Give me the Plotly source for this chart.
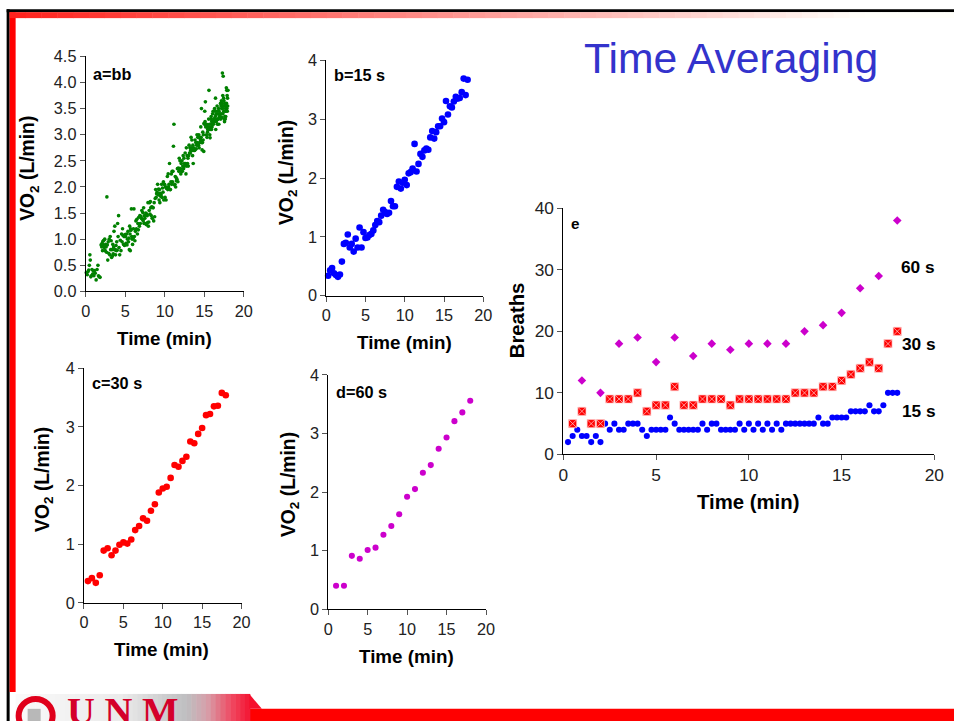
import plotly.graph_objects as go

W, H = 954, 721
# The photograph of the page shows the window framed and slightly scaled;
# positions below are given in reference-picture pixels and converted back to figure pixels.
SXF, SYF, PAD, XSHIFT = 970 / 954, 737 / 721, 8, 2.5
SF = 970 / 954  # font / marker size compensation

# ---------------- DATA ----------------
# a = breath-by-breath VO2 (L/min) vs time (min)
bb_time = [
    0.08, 0.20, 0.30, 0.38, 0.46, 0.53, 0.58, 0.65, 0.71, 0.80, 0.88, 0.96,
    1.04, 1.12, 1.20, 1.32, 1.44, 1.55, 1.62, 1.70, 1.82, 1.95,
    2.03, 2.08, 2.13, 2.18, 2.23, 2.29, 2.35, 2.41, 2.47, 2.53, 2.58, 2.63, 2.68, 2.73, 2.79, 2.85, 2.91, 2.97,
    3.04, 3.10, 3.16, 3.22, 3.28, 3.33, 3.38, 3.43, 3.48, 3.53, 3.58, 3.63, 3.68, 3.73, 3.78, 3.83, 3.88, 3.93, 3.98,
    4.04, 4.10, 4.16, 4.22, 4.30, 4.38, 4.46, 4.54, 4.60, 4.66, 4.72, 4.79, 4.85, 4.91, 4.97,
    5.04, 5.10, 5.16, 5.22, 5.29, 5.35, 5.41, 5.47, 5.52, 5.56, 5.60, 5.64, 5.68, 5.72, 5.78, 5.83, 5.88, 5.93, 5.98,
    6.04, 6.10, 6.16, 6.22, 6.29, 6.35, 6.41, 6.47, 6.54, 6.60, 6.66, 6.72, 6.79, 6.85, 6.91, 6.97,
    7.04, 7.10, 7.16, 7.22, 7.28, 7.33, 7.38, 7.43, 7.48, 7.54, 7.60, 7.66, 7.72, 7.78, 7.83, 7.88, 7.93, 7.98,
    8.03, 8.08, 8.13, 8.18, 8.23, 8.29, 8.35, 8.41, 8.47, 8.54, 8.60, 8.66, 8.72, 8.79, 8.85, 8.91, 8.97,
    9.04, 9.10, 9.16, 9.22, 9.28, 9.33, 9.38, 9.43, 9.48, 9.54, 9.60, 9.66, 9.72, 9.78, 9.83, 9.88, 9.93, 9.98,
    10.04, 10.10, 10.16, 10.22, 10.28, 10.33, 10.38, 10.43, 10.48, 10.54, 10.60, 10.66, 10.72, 10.78, 10.83, 10.88, 10.93, 10.98,
    11.04, 11.10, 11.16, 11.22, 11.28, 11.33, 11.38, 11.43, 11.48, 11.54, 11.60, 11.66, 11.72, 11.78, 11.83, 11.88, 11.93, 11.98,
    12.03, 12.08, 12.13, 12.18, 12.23, 12.28, 12.33, 12.38, 12.43, 12.48, 12.53, 12.58, 12.63, 12.68, 12.73, 12.78, 12.83, 12.88, 12.93, 12.98,
    13.03, 13.08, 13.13, 13.18, 13.23, 13.28, 13.33, 13.38, 13.43, 13.48, 13.52, 13.56, 13.60, 13.64, 13.68, 13.72, 13.78, 13.83, 13.88, 13.93, 13.98,
    14.03, 14.08, 14.13, 14.18, 14.23, 14.27, 14.31, 14.35, 14.39, 14.43, 14.47, 14.52, 14.56, 14.60, 14.64, 14.68, 14.72,
    14.77, 14.81, 14.85, 14.89, 14.93, 14.97,
    15.02, 15.06, 15.10, 15.14, 15.18, 15.22, 15.27, 15.30, 15.34, 15.37, 15.41, 15.44, 15.48,
    15.52, 15.55, 15.59, 15.62, 15.66, 15.69, 15.73, 15.77, 15.80, 15.84, 15.87, 15.91, 15.94, 15.98,
    16.02, 16.05, 16.09, 16.12, 16.16, 16.19, 16.23, 16.27, 16.30, 16.33, 16.36, 16.39, 16.42, 16.45, 16.48,
    16.52, 16.55, 16.59, 16.62, 16.66, 16.69, 16.73, 16.77, 16.80, 16.84, 16.87, 16.91, 16.94, 16.98,
    17.02, 17.05, 17.08, 17.11, 17.14, 17.17, 17.20, 17.23, 17.26, 17.29, 17.31, 17.34, 17.36, 17.39, 17.41, 17.44, 17.46, 17.49,
    17.51, 17.54, 17.56, 17.59, 17.61, 17.64, 17.66, 17.69, 17.71, 17.74, 17.76, 17.79, 17.81, 17.84, 17.86, 17.89, 17.91, 17.94, 17.96, 17.99,
]
bb_vo2 = [
    0.36, 0.32, 0.38, 0.41, 0.50, 0.70, 0.60, 0.28, 0.30, 0.42, 0.33, 0.39,
    0.30, 0.40, 0.35, 0.22, 0.42, 0.50, 0.30, 0.28, 0.27, 0.89,
    0.85, 0.92, 0.78, 0.96, 0.89, 0.98, 0.84, 1.00, 0.78, 0.90, 0.85, 0.75, 1.81, 0.89, 0.60, 0.95, 0.73, 1.00,
    0.70, 1.05, 0.80, 0.97, 0.65, 0.80, 0.68, 0.90, 0.72, 0.85, 1.15, 0.80, 1.25, 0.80, 0.70, 0.88, 0.78, 0.95, 0.79,
    1.30, 1.05, 1.45, 0.84, 0.70, 0.98, 0.78, 1.10, 0.95, 1.20, 1.07, 0.90, 1.05, 0.88, 1.09,
    1.05, 0.92, 1.10, 0.89, 1.00, 1.15, 0.95, 1.02, 0.80, 1.25, 1.10, 0.78, 1.20, 1.17, 1.58, 1.05, 1.00, 0.90, 1.02,
    1.20, 1.58, 1.05, 0.97, 1.15, 1.35, 1.20, 1.38, 1.10, 1.30, 1.18, 1.42, 1.25, 1.45, 1.30, 1.44,
    1.40, 1.55, 1.38, 1.51, 1.35, 1.60, 1.30, 1.45, 1.40, 1.30, 1.50, 1.28, 1.48, 1.45, 1.32, 1.70, 1.25, 1.33,
    1.55, 1.70, 1.48, 1.72, 1.60, 1.45, 1.62, 1.40, 1.61, 1.60, 1.35, 1.70, 1.43, 1.78, 1.95, 1.80, 1.87,
    1.90, 2.05, 1.85, 1.96, 1.75, 1.95, 1.70, 1.88, 1.82, 1.85, 2.05, 1.80, 1.98, 1.90, 2.10, 1.75, 2.05, 2.05,
    1.80, 2.00, 1.75, 1.97, 2.00, 2.20, 1.95, 2.25, 2.00, 2.05, 2.45, 1.95, 1.95, 2.10, 2.25, 2.05, 2.30, 2.10,
    2.30, 2.78, 3.20, 2.04, 2.05, 2.20, 2.00, 2.18, 2.12, 2.15, 2.35, 2.10, 2.36, 2.30, 2.55, 2.35, 2.50, 2.35,
    2.25, 2.45, 2.30, 2.50, 2.30, 2.40, 2.60, 2.35, 2.55, 2.45, 2.40, 2.65, 2.45, 2.25, 2.75, 2.40, 2.60, 2.45, 2.55, 2.40,
    2.60, 2.80, 2.65, 2.75, 2.65, 2.70, 2.95, 2.75, 2.90, 2.70, 2.60, 2.80, 2.45, 2.75, 2.70, 2.72, 2.70, 2.90, 2.72, 2.85, 2.73,
    2.80, 3.00, 2.85, 2.95, 2.80, 2.80, 3.00, 2.75, 2.95, 2.85, 2.93, 2.90, 3.15, 2.95, 3.50, 2.85, 2.71,
    2.85, 3.05, 2.90, 3.00, 2.68, 3.22,
    3.20, 3.45, 3.25, 3.63, 3.15, 3.18, 3.00, 3.20, 2.95, 3.15, 3.05, 3.10, 3.11,
    3.15, 3.30, 3.85, 3.10, 3.20, 3.00, 2.94, 3.10, 3.30, 3.15, 3.35, 3.10, 3.25, 3.15,
    3.20, 3.40, 3.25, 3.45, 3.20, 3.30, 3.30, 3.30, 3.50, 3.25, 3.45, 3.35, 3.70, 3.10, 3.39,
    3.25, 3.45, 3.30, 3.55, 3.20, 3.40, 3.30, 3.30, 3.50, 3.20, 3.45, 3.35, 3.40, 3.32,
    3.35, 3.60, 3.30, 3.55, 3.40, 3.65, 3.50, 3.33, 3.60, 4.18, 3.50, 3.75, 3.40, 4.12, 3.55, 3.70, 3.45, 3.65,
    3.30, 3.55, 3.25, 3.60, 3.35, 3.45, 3.30, 3.50, 3.35, 3.45, 3.55, 3.90, 3.60, 3.85, 3.50, 3.75, 3.45, 3.70, 3.55, 3.85,
]

# 15-s, 30-s and 60-s interval end times (min)
t15 = [0.25, 0.5, 0.75, 1.0, 1.25, 1.5, 1.75, 2.0, 2.25, 2.5, 2.75, 3.0,
       3.25, 3.5, 3.75, 4.0, 4.25, 4.5, 4.75, 5.0, 5.25, 5.5, 5.75, 6.0,
       6.25, 6.5, 6.75, 7.0, 7.25, 7.5, 7.75, 8.0, 8.25, 8.5, 8.75, 9.0,
       9.25, 9.5, 9.75, 10.0, 10.25, 10.5, 10.75, 11.0, 11.25, 11.5, 11.75, 12.0,
       12.25, 12.5, 12.75, 13.0, 13.25, 13.5, 13.75, 14.0, 14.25, 14.5, 14.75, 15.0,
       15.25, 15.5, 15.75, 16.0, 16.25, 16.5, 16.75, 17.0, 17.25, 17.5, 17.75, 18.0]
t30 = [0.5, 1.0, 1.5, 2.0, 2.5, 3.0, 3.5, 4.0, 4.5, 5.0, 5.5, 6.0,
       6.5, 7.0, 7.5, 8.0, 8.5, 9.0, 9.5, 10.0, 10.5, 11.0, 11.5, 12.0,
       12.5, 13.0, 13.5, 14.0, 14.5, 15.0, 15.5, 16.0, 16.5, 17.0, 17.5, 18.0]
t60 = [1, 2, 3, 4, 5, 6, 7, 8, 9, 10, 11, 12, 13, 14, 15, 16, 17, 18]

# b = 15 s averages
vo2_15 = [0.34, 0.43, 0.47, 0.38, 0.35, 0.32, 0.36, 0.58, 0.88, 0.90, 1.04, 0.82,
          0.88, 0.75, 0.97, 0.82, 1.16, 0.82, 1.08, 0.98, 0.99, 1.03, 1.05, 1.11,
          1.20, 1.27, 1.25, 1.36, 1.46, 1.42, 1.39, 1.41, 1.61, 1.52, 1.52, 1.85,
          1.94, 1.82, 1.92, 1.97, 1.88, 2.08, 2.10, 2.16, 2.58, 2.11, 2.24, 2.41,
          2.36, 2.47, 2.50, 2.48, 2.69, 2.80, 2.67, 2.78, 2.88, 2.88, 3.01, 2.95,
          3.31, 3.08, 3.22, 3.20, 3.30, 3.38, 3.35, 3.36, 3.46, 3.69, 3.41, 3.67]
# c = 30 s averages
vo2_30 = [0.37, 0.42, 0.34, 0.47, 0.89, 0.93, 0.81, 0.89, 0.99, 1.03, 1.01, 1.08,
          1.24, 1.31, 1.44, 1.40, 1.57, 1.68, 1.88, 1.95, 1.98, 2.13, 2.35, 2.32,
          2.42, 2.49, 2.75, 2.72, 2.88, 2.98, 3.20, 3.22, 3.35, 3.36, 3.58, 3.54]
# d = 60 s averages
vo2_60 = [0.40, 0.40, 0.91, 0.86, 1.01, 1.05, 1.27, 1.42, 1.62, 1.92, 2.05, 2.33,
          2.46, 2.74, 2.93, 3.21, 3.36, 3.56]

# e = breaths per averaging interval
br_15 = [2, 3, 4, 3, 3, 2, 3, 2, 5, 4, 5, 4, 4, 5, 5, 5, 4, 3, 4, 4, 4, 4, 6, 5,
         4, 4, 4, 4, 4, 5, 4, 5, 5, 4, 4, 4, 4, 5, 4, 5, 4, 5, 4, 5, 4, 5, 4, 5,
         5, 5, 5, 5, 5, 5, 6, 5, 5, 6, 6, 6, 6, 7, 7, 7, 7, 8, 7, 7, 8, 10, 10, 10]
br_30 = [5, 7, 5, 5, 9, 9, 9, 10, 7, 8, 8, 11, 8, 8, 9, 9, 9, 8, 9, 9, 9, 9, 9, 9,
         10, 10, 10, 11, 11, 12, 13, 14, 15, 14, 18, 20]
br_60 = [12, 10, 18, 19, 15, 19, 16, 18, 17, 18, 18, 18, 20, 21, 23, 27, 29, 38]

panel_labels = ["a=bb", "b=15 s", "c=30 s", "d=60 s", "e"]
series_labels = ["60 s", "30 s", "15 s"]

# ---------------- FIGURE ----------------
def PX(x):
    """reference-picture pixel x -> paper fraction"""
    return ((x + XSHIFT) * SXF - PAD) / W


def PY(y):
    """reference-picture pixel y -> paper fraction"""
    return 1 - (y * SYF - PAD) / H


def fs(v):
    return round(v * SF, 2)


FONT = "Liberation Sans, Arial, sans-serif"
GREEN, BLUE, RED, MAG = "#008000", "#0000FF", "#FF0000", "#CC00CC"

fig = go.Figure()
fig.add_trace(go.Scatter(x=bb_time, y=bb_vo2, mode="markers", xaxis="x", yaxis="y",
                         marker=dict(color=GREEN, size=fs(3.6)), cliponaxis=False))
fig.add_trace(go.Scatter(x=t15, y=vo2_15, mode="markers", xaxis="x2", yaxis="y2",
                         marker=dict(color=BLUE, size=fs(6.5)), cliponaxis=False))
fig.add_trace(go.Scatter(x=t30, y=vo2_30, mode="markers", xaxis="x3", yaxis="y3",
                         marker=dict(color=RED, size=fs(6.5)), cliponaxis=False))
fig.add_trace(go.Scatter(x=t60, y=vo2_60, mode="markers", xaxis="x4", yaxis="y4",
                         marker=dict(color=MAG, size=fs(6)), cliponaxis=False))
fig.add_trace(go.Scatter(x=t15, y=br_15, mode="markers", xaxis="x5", yaxis="y5",
                         marker=dict(color=BLUE, size=fs(6)), cliponaxis=False))
fig.add_trace(go.Scatter(x=t30, y=br_30, mode="markers", xaxis="x5", yaxis="y5",
                         marker=dict(color=RED, size=fs(8), symbol="square-x",
                                     line=dict(color="#FFD0D0", width=0.7)), cliponaxis=False))
fig.add_trace(go.Scatter(x=t60, y=br_60, mode="markers", xaxis="x5", yaxis="y5",
                         marker=dict(color=MAG, size=fs(6.5), symbol="diamond"), cliponaxis=False))


def axis(domain, rng, dtick, anchor, fsize=16, fmt=None):
    d = dict(domain=domain, range=rng, dtick=dtick, tick0=0, anchor=anchor,
             showline=True, linecolor="black", linewidth=1, ticks="outside",
             ticklen=5, tickwidth=1, tickcolor="#555", showgrid=False, zeroline=False,
             tickfont=dict(family=FONT, size=fs(fsize), color="#222"), fixedrange=True)
    if fmt:
        d["tickformat"] = fmt
    return d


# panel pixel boxes in the reference: (x0, x1, ybottom, ytop)
boxes = {
    "1": (86, 244, 291, 54.5),
    "2": (326.3, 483.3, 295.3, 58.5),
    "3": (84.3, 241.7, 604.3, 368.3),
    "4": (328.3, 486, 610.7, 375),
    "5": (563.3, 934, 455, 207.3),
}
yr = {"1": ([0, 4.5], 0.5, ".1f"), "2": ([0, 4], 1, None), "3": ([0, 4], 1, None),
      "4": ([0, 4], 1, None), "5": ([0, 40], 10, None)}

lay = {}
for k, (x0, x1, yb, yt) in boxes.items():
    sx = "" if k == "1" else k
    f = 17 if k == "5" else 16
    lay["xaxis" + sx] = axis([PX(x0), PX(x1)], [0, 20], 5, "y" + sx, f)
    r, dt, fmt = yr[k]
    lay["yaxis" + sx] = axis([PY(yb), PY(yt)], r, dt, "x" + sx, f, fmt)
fig.update_layout(**lay)

ann = []


def text(t, x, y, size, color="black", angle=0, xanchor="center", yanchor="middle",
         family=FONT):
    ann.append(dict(text=t, x=PX(x), y=PY(y), xref="paper", yref="paper",
                    showarrow=False, textangle=angle, xanchor=xanchor, yanchor=yanchor,
                    font=dict(family=family, size=fs(size), color=color)))


VO2 = "<b>VO<sub>2</sub> (L/min)</b>"
TM = "<b>Time (min)</b>"
# axis titles
text(TM, 165, 338, 18.5)
text(VO2, 30, 167, 19, angle=-90)
text(TM, 405, 342, 18.5)
text(VO2, 288, 171, 19, angle=-90)
text(TM, 162, 651, 18.5)
text(VO2, 45, 480, 19, angle=-90)
text(TM, 407, 658, 18.5)
text(VO2, 290, 485, 19, angle=-90)
text(TM, 748, 503, 20)
text("<b>Breaths</b>", 517, 320, 20, angle=-90)
# panel labels
text("<b>" + panel_labels[0] + "</b>", 91, 72, 16, xanchor="left")
text("<b>" + panel_labels[1] + "</b>", 332, 73, 16, xanchor="left")
text("<b>" + panel_labels[2] + "</b>", 90, 383, 16, xanchor="left")
text("<b>" + panel_labels[3] + "</b>", 334, 392, 16, xanchor="left")
text("<b>" + panel_labels[4] + "</b>", 569, 223, 15, xanchor="left")
# series labels in panel e
text("<b>" + series_labels[0] + "</b>", 918, 266, 17)
text("<b>" + series_labels[1] + "</b>", 919, 344, 17)
text("<b>" + series_labels[2] + "</b>", 919, 411, 17)
# slide title
text("Time Averaging", 731, 56, 42, color="#3333CC")
# UNM logo text (top part only visible, as in the slide)
text("<b>U N M</b>", 123, 713, 38, color="#D4002A",
     family="Liberation Serif, Times New Roman, serif")

shapes = []


def rect(x0, y0, x1, y1, color, layer="below"):
    shapes.append(dict(type="rect", xref="paper", yref="paper", x0=PX(x0), x1=PX(x1),
                       y0=PY(y1), y1=PY(y0), fillcolor=color, line=dict(width=0),
                       layer=layer))


# slide frame
rect(7, 7, 960, 10, "black")
rect(7, 7, 10, 730, "black")
rect(10, 10, 16, 694, "#FF0000")
# top gradient bar
n = 60
for i in range(n):
    xa = 10 + (960 - 10) * i / n
    xb = 10 + (960 - 10) * (i + 1) / n + 0.5
    fr = min(1.0, (xa - 10) / 840)
    g = int(35 + (255 - 35) * fr)
    rect(xa, 10, xb, 16, "rgb(255,%d,%d)" % (g, max(20, g - 5)))
# bottom red bar
rect(247, 711, 960, 730, "#FF0000")
# logo gradient strip
stops = [(16, (250, 250, 250)), (120, (235, 235, 235)), (185, (190, 190, 192)),
         (205, (215, 160, 170)), (230, (240, 70, 95)), (250, (245, 15, 45))]
m = 48
for i in range(m):
    xa = 16 + (250 - 16) * i / m
    xb = 16 + (250 - 16) * (i + 1) / m + 0.5
    for j in range(len(stops) - 1):
        if stops[j][0] <= xa <= stops[j + 1][0]:
            fr = (xa - stops[j][0]) / (stops[j + 1][0] - stops[j][0])
            c = [int(stops[j][1][q] + (stops[j + 1][1][q] - stops[j][1][q]) * fr) for q in range(3)]
            break
    rect(xa, 696, xb, 730, "rgb(%d,%d,%d)" % tuple(c))
shapes.append(dict(type="path", xref="paper", yref="paper",
                   path="M %f %f L %f %f L %f %f Z" % (PX(249.5), PY(696), PX(262), PY(711),
                                                       PX(249.5), PY(711)),
                   fillcolor="rgb(245,15,45)", line=dict(width=0), layer="below"))
# circular logo emblem
shapes.append(dict(type="circle", xref="paper", yref="paper",
                   x0=PX(19), x1=PX(53), y0=PY(735), y1=PY(701),
                   line=dict(color="#E0001B", width=6), fillcolor="rgba(0,0,0,0)"))
rect(28, 711, 41, 730, "#B8B8B8", layer="above")

fig.update_layout(
    width=W, height=H, margin=dict(l=0, r=0, t=0, b=0),
    paper_bgcolor="white", plot_bgcolor="rgba(0,0,0,0)",
    showlegend=False, annotations=ann, shapes=shapes,
)

fig.write_html("out.html", config={"displayModeBar": False},
               post_script="document.body.style.margin='0';document.body.style.overflow='hidden';")
